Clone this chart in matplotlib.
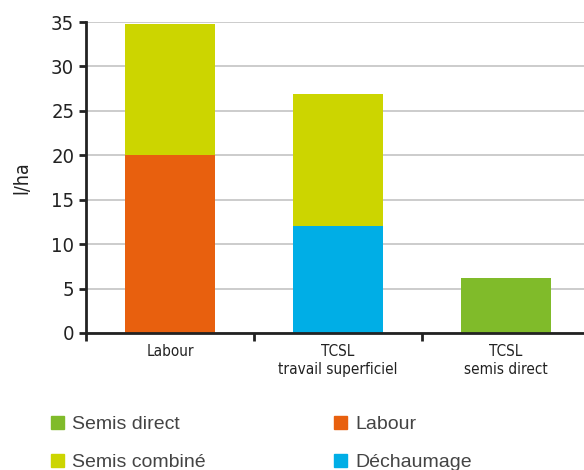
import matplotlib.pyplot as plt
from matplotlib.patches import Patch

categories = ['Labour', 'TCSL\ntravail superficiel', 'TCSL\nsemis direct']
labour = [20, 0, 0]
dechaumage = [0, 12, 0]
semis_combine = [14.8, 14.9, 0]
semis_direct = [0, 0, 6.2]

c_labour = '#E8600E'
c_dech = '#00AEE6'
c_comb = '#CCD500'
c_direct = '#80BB2A'

narrow = dict(family='DejaVu Sans', stretch='condensed')

fig = plt.figure(figsize=(5.84, 4.70), dpi=100)
ax = fig.add_axes([86 / 584, 1 - 333 / 470, 3 * 168 / 584, 311 / 470])

x = range(len(categories))
bottom2 = [a + b for a, b in zip(labour, dechaumage)]
ax.bar(x, labour, width=0.53, color=c_labour, zorder=2)
ax.bar(x, dechaumage, width=0.53, color=c_dech, zorder=2)
ax.bar(x, semis_combine, width=0.53, bottom=bottom2, color=c_comb, zorder=2)
ax.bar(x, semis_direct, width=0.53, color=c_direct, zorder=2)

ax.set_xlim(-0.5, 2.5)
ax.set_ylim(0, 35)
ax.set_yticks(range(0, 36, 5))
ax.yaxis.grid(True, color='#c8c8c8', linewidth=1.3, zorder=0)
ax.set_axisbelow(True)

ax.set_xticks([-0.5, 0.5, 1.5])
ax.set_xticklabels([])
ax.set_xticks(list(x), minor=True)
ax.set_xticklabels(categories, minor=True, fontsize=11, color='#222222', **narrow)
ax.tick_params(axis='x', which='minor', length=0, pad=8)
ax.tick_params(axis='x', which='major', direction='out', length=6, width=2, color='#222222')
ax.tick_params(axis='y', direction='out', length=5, width=2, color='#222222', labelsize=14.5, labelcolor='#222222')
for lab in ax.get_yticklabels():
    lab.set_fontstretch('condensed')

for s in ['top', 'right']:
    ax.spines[s].set_visible(False)
for s in ['left', 'bottom']:
    ax.spines[s].set_linewidth(2)
    ax.spines[s].set_color('#222222')

ax.set_ylabel('l/ha', fontsize=14, color='#222222', labelpad=14, **narrow)

handles = [Patch(color=c_direct, label='Semis direct'),
           Patch(color=c_comb, label='Semis combiné'),
           Patch(color=c_labour, label='Labour'),
           Patch(color=c_dech, label='Déchaumage')]
fig.legend(handles=handles, ncol=2, loc='upper left', bbox_to_anchor=(33 / 584, 1 - 398 / 470),
           frameon=False, prop={'family': 'Liberation Sans', 'size': 14},
           handlelength=0.7, handleheight=0.7,
           handletextpad=0.4, columnspacing=6.6, labelspacing=1.05,
           labelcolor='#444444')

fig.savefig('out.png', dpi=100)
